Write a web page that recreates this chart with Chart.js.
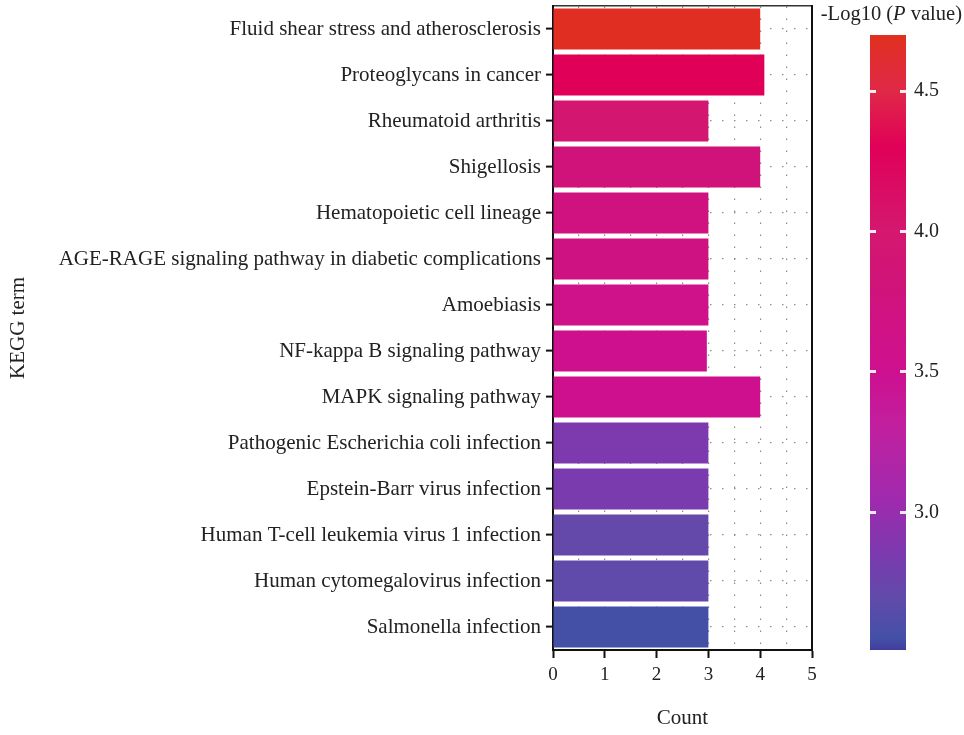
<!DOCTYPE html>
<html>
<head>
<meta charset="utf-8">
<script src="https://cdn.jsdelivr.net/npm/chart.js@4/dist/chart.umd.min.js"></script>
<style>
  html, body { margin: 0; padding: 0; background: #fff; }
  #wrap { position: relative; width: 964px; height: 735px; overflow: hidden; }
  #main { position: absolute; left: 0; top: 0; }
  #legendBar { position: absolute; left: 830px; top: 20px; }
  #legendTitle { position: absolute; right: 2px; top: 2px; font: 20.5px "Liberation Serif", serif; color: #222; white-space: nowrap; }
</style>
</head>
<body>
<div id="wrap">
  <canvas id="main" width="964" height="735"></canvas>
  <canvas id="legendBar" width="134" height="650"></canvas>
  <div id="legendTitle">-Log10 (<i>P</i> value)</div>
</div>
<script>
// KEGG pathway terms, top to bottom
const terms = [
  'Fluid shear stress and atherosclerosis',
  'Proteoglycans in cancer',
  'Rheumatoid arthritis',
  'Shigellosis',
  'Hematopoietic cell lineage',
  'AGE-RAGE signaling pathway in diabetic complications',
  'Amoebiasis',
  'NF-kappa B signaling pathway',
  'MAPK signaling pathway',
  'Pathogenic Escherichia coli infection',
  'Epstein-Barr virus infection',
  'Human T-cell leukemia virus 1 infection',
  'Human cytomegalovirus infection',
  'Salmonella infection'
];

// Gene count per term
const counts = [4.0, 4.08, 3.0, 4.0, 3.0, 3.0, 3.0, 2.97, 4.0, 3.0, 3.0, 3.0, 3.0, 3.0];

// -Log10(P value) per term, encoded as bar colour
const logP = [4.68, 4.30, 3.97, 3.80, 3.72, 3.70, 3.58, 3.52, 3.52, 2.86, 2.84, 2.71, 2.69, 2.55];

// Count axis tick labels
const countTicks = [0, 1, 2, 3, 4, 5];

// Colour bar range and tick labels
const scaleMin = 2.51;
const scaleMax = 4.70;
const legendTicks = [3.0, 3.5, 4.0, 4.5];

// Colour ramp for -Log10(P value)
const rampStops = [
  [2.51, '#433C9E'],
  [2.55, '#4350A6'],
  [2.70, '#624AAA'],
  [2.85, '#7B3AAE'],
  [3.05, '#A02AAE'],
  [3.30, '#C0209F'],
  [3.50, '#CE1090'],
  [3.80, '#D0137A'],
  [4.00, '#D41870'],
  [4.30, '#E00058'],
  [4.50, '#E02848'],
  [4.70, '#E0301E']
];

const FONT = "'Liberation Serif', 'Times New Roman', serif";
Chart.defaults.font.family = FONT;
Chart.defaults.color = '#222';

function hexToRgb(h) {
  const n = parseInt(h.slice(1), 16);
  return [(n >> 16) & 255, (n >> 8) & 255, n & 255];
}
function rampColor(v) {
  if (v <= rampStops[0][0]) return rampStops[0][1];
  for (let i = 1; i < rampStops.length; i++) {
    const [v1, c1] = rampStops[i];
    const [v0, c0] = rampStops[i - 1];
    if (v <= v1) {
      const t = (v - v0) / (v1 - v0);
      const a = hexToRgb(c0), b = hexToRgb(c1);
      const m = a.map((x, k) => Math.round(x + (b[k] - x) * t));
      return `rgb(${m[0]},${m[1]},${m[2]})`;
    }
  }
  return rampStops[rampStops.length - 1][1];
}

// keep the plot area flush with the layout padding
function noLabelOverhang(s) {
  s.paddingTop = 0; s.paddingBottom = 0; s.paddingLeft = 0; s.paddingRight = 0;
}

const dotGrid = '#8c8c8c';

new Chart(document.getElementById('main'), {
  type: 'bar',
  data: {
    labels: terms,
    datasets: [{
      data: counts,
      backgroundColor: logP.map(rampColor),
      borderWidth: 0,
      barPercentage: 0.89,
      categoryPercentage: 1.0,
      xAxisID: 'x',
      yAxisID: 'y'
    }]
  },
  options: {
    responsive: false,
    animation: false,
    indexAxis: 'y',
    layout: { padding: { left: 0, right: 152, top: 6, bottom: 0 } },
    plugins: { legend: { display: false }, tooltip: { enabled: false } },
    scales: {
      x: {
        type: 'linear',
        position: 'bottom',
        min: 0,
        max: 5,
        afterBuildTicks: (s) => { s.ticks = countTicks.map(v => ({ value: v })); },
        ticks: { font: { size: 19 }, color: '#222', padding: 6 },
        grid: { drawOnChartArea: false, drawTicks: true, tickLength: 8, tickColor: '#111', tickWidth: 2 },
        border: { color: '#111', width: 2 },
        title: { display: true, text: 'Count', font: { size: 21 }, color: '#222', padding: { top: 0, bottom: 4 } },
        afterFit: (s) => { noLabelOverhang(s); s.height = 85; }
      },
      xg: {
        type: 'linear',
        position: 'top',
        min: 0,
        max: 5,
        ticks: { display: false, stepSize: 0.5 },
        grid: { color: dotGrid, lineWidth: 1.2, drawTicks: false },
        border: { display: true, color: '#333', width: 1.5, dash: [1.5, 10.5] },
        afterFit: (s) => { noLabelOverhang(s); s.height = 0; }
      },
      y: {
        type: 'category',
        position: 'left',
        ticks: { font: { size: 21 }, color: '#222', padding: 5 },
        grid: {
          offset: false, drawOnChartArea: true, color: dotGrid, lineWidth: 1.2,
          drawTicks: true, tickLength: 7, tickColor: '#111', tickWidth: 2, tickBorderDash: []
        },
        border: { color: '#111', width: 2, dash: [1.5, 10.5] },
        title: { display: true, text: 'KEGG term', font: { size: 21 }, color: '#222', padding: { top: 6, bottom: 0 } },
        afterFit: (s) => { noLabelOverhang(s); s.width = 553; }
      },
      yr: {
        type: 'linear',
        position: 'right',
        ticks: { display: false },
        grid: { display: false, drawTicks: false },
        border: { display: true, color: '#111', width: 2 },
        afterFit: (s) => { noLabelOverhang(s); s.width = 0; }
      }
    }
  }
});

// Colour bar legend for -Log10(P value)
new Chart(document.getElementById('legendBar'), {
  type: 'bar',
  data: {
    labels: [''],
    datasets: [{
      data: [[scaleMin, scaleMax]],
      borderWidth: 0,
      barPercentage: 1,
      categoryPercentage: 1,
      backgroundColor: (ctx) => {
        const chart = ctx.chart;
        if (!chart.chartArea) return '#c0308f';
        const ys = chart.scales.y;
        const g = chart.ctx.createLinearGradient(0, ys.getPixelForValue(scaleMin), 0, ys.getPixelForValue(scaleMax));
        rampStops.forEach(([v, c]) => g.addColorStop((v - scaleMin) / (scaleMax - scaleMin), c));
        return g;
      }
    }]
  },
  options: {
    responsive: false,
    animation: false,
    layout: { padding: { left: 40, right: 0, top: 15, bottom: 20 } },
    plugins: { legend: { display: false }, tooltip: { enabled: false } },
    scales: {
      x: { display: false },
      y: {
        position: 'right',
        min: scaleMin,
        max: scaleMax,
        afterBuildTicks: (s) => { s.ticks = legendTicks.map(v => ({ value: v })); },
        ticks: { font: { size: 20 }, color: '#222', padding: 8, callback: (v) => Number(v).toFixed(1) },
        grid: { color: 'rgba(255,255,255,0.92)', lineWidth: 3, drawTicks: false, z: 1 },
        border: { display: false, dash: [6, 24] },
        afterFit: (s) => { noLabelOverhang(s); s.width = 58; }
      }
    }
  }
});
</script>
</body>
</html>
